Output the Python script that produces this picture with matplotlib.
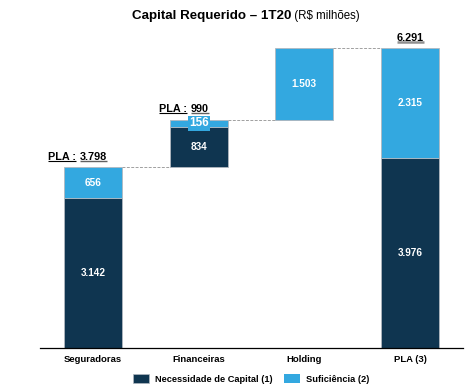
import matplotlib.pyplot as plt
import numpy as np
from matplotlib.patches import Patch

categories = ["Seguradoras", "Financeiras", "Holding", "PLA (3)"]
necessidade = [3142, 834, 0, 3976]
suficiencia = [656, 156, 1503, 2315]
bases = [0, 3798, 4788, 0]
pla_labels = ["3.798", "990", None, "6.291"]
dark_labels = ["3.142", "834", None, "3.976"]
light_labels = ["656", "156", "1.503", "2.315"]

dark = "#0F3550"
light = "#33A8E0"

plt.rcParams['font.family'] = ['Liberation Sans', 'DejaVu Sans']

fig = plt.figure(figsize=(4.70, 3.92), dpi=100)
ax = fig.add_axes([40/470, 44/392, 423/470, 300/392])

x = np.arange(len(categories))
w = 0.55
bottoms_dark = np.array(bases)
tops_dark = bottoms_dark + np.array(necessidade)
tops = tops_dark + np.array(suficiencia)

ax.set_xlim(-0.5, 3.5)
ax.set_ylim(0, tops[3])

ax.bar(x, necessidade, w, bottom=bottoms_dark, color=dark, edgecolor="#B0B8C0", linewidth=0.6, zorder=2)
ax.bar(x, suficiencia, w, bottom=tops_dark, color=light, edgecolor="#B0B8C0", linewidth=0.6, zorder=2)

# connectors
for i in range(len(x) - 1):
    ax.plot([x[i] + w/2, x[i+1] - w/2], [tops[i], tops[i]], ls=(0, (3, 1.5)), color="#A0A0A0", lw=0.7, zorder=1)

# inner labels
for i in range(len(x)):
    if dark_labels[i]:
        ax.text(x[i], bottoms_dark[i] + necessidade[i]/2, dark_labels[i], ha="center", va="center",
                color="white", fontsize=7.2, fontweight="bold")
    if i == 1:
        ax.text(x[i], tops_dark[i] + suficiencia[i]/2, light_labels[i], ha="center", va="center",
                color="white", fontsize=8.5, fontweight="bold",
                bbox=dict(boxstyle="square,pad=0.1", fc=light, ec="none"), zorder=3)
    else:
        ax.text(x[i], tops_dark[i] + suficiencia[i]/2, light_labels[i], ha="center", va="center",
                color="white", fontsize=7.2, fontweight="bold")

fig.canvas.draw()
r = fig.canvas.get_renderer()
inv = ax.transData.inverted()

def add_ul(t, ucolor, lw, off=1.0):
    bb = t.get_window_extent(renderer=r)
    p0 = inv.transform((bb.x0, bb.y0 + off))
    p1 = inv.transform((bb.x1, bb.y0 + off))
    ax.plot([p0[0], p1[0]], [p0[1], p1[1]], color=ucolor, lw=lw, clip_on=False, solid_capstyle="butt")

pla_offsets = [0.15, 0.10]
for i in [0, 1]:
    t1 = ax.text(x[i] - w/2 - pla_offsets[i], tops[i] + 110, "PLA :", ha="left", va="bottom", fontsize=7.8,
                 fontweight="bold", clip_on=False)
    bb = t1.get_window_extent(renderer=r)
    xe = inv.transform((bb.x1 + 4, bb.y0))[0]
    t2 = ax.text(xe, tops[i] + 110, pla_labels[i], ha="left", va="bottom", fontsize=7.8,
                 fontweight="bold", clip_on=False)
    add_ul(t1, "black", 0.8)
    add_ul(t2, "#606060", 1.0)

t3 = ax.text(x[3], tops[3] + 110, pla_labels[3], ha="center", va="bottom", fontsize=7.8,
             fontweight="bold", clip_on=False)
add_ul(t3, "#909090", 1.8, off=0.5)

for s in ["top", "right", "left"]:
    ax.spines[s].set_visible(False)
ax.spines["bottom"].set_linewidth(0.9)
ax.set_yticks([])
ax.set_xticks(x)
ax.set_xticklabels(categories, fontsize=6.8, fontweight="bold")
ax.tick_params(axis="x", length=0, pad=5)

t_a = fig.text(0, 1 - 16/392, "Capital Requerido – 1T20", fontsize=9.6, fontweight="bold", va="center", ha="left")
t_b = fig.text(0, 1 - 16/392, " (R$ milhões)", fontsize=8.3, va="center", ha="left")
fig.canvas.draw()
r = fig.canvas.get_renderer()
wa = t_a.get_window_extent(renderer=r).width
start = 132
t_a.set_x(start / fig.bbox.width)
t_b.set_x((start + wa) / fig.bbox.width)

handles = [Patch(facecolor=dark, edgecolor="#B0B8C0", lw=0.5, label="Necessidade de Capital (1)"),
           Patch(facecolor=light, edgecolor="none", label="Suficiência (2)")]
fig.legend(handles=handles, loc="center", bbox_to_anchor=(0.5 + 16/470, 1 - 379/392), ncol=2, frameon=False,
           prop={"size": 6.7, "weight": "bold"}, handlelength=1.8, handleheight=1.0, columnspacing=1.2,
           handletextpad=0.6)

fig.savefig("out.png", dpi=100)
